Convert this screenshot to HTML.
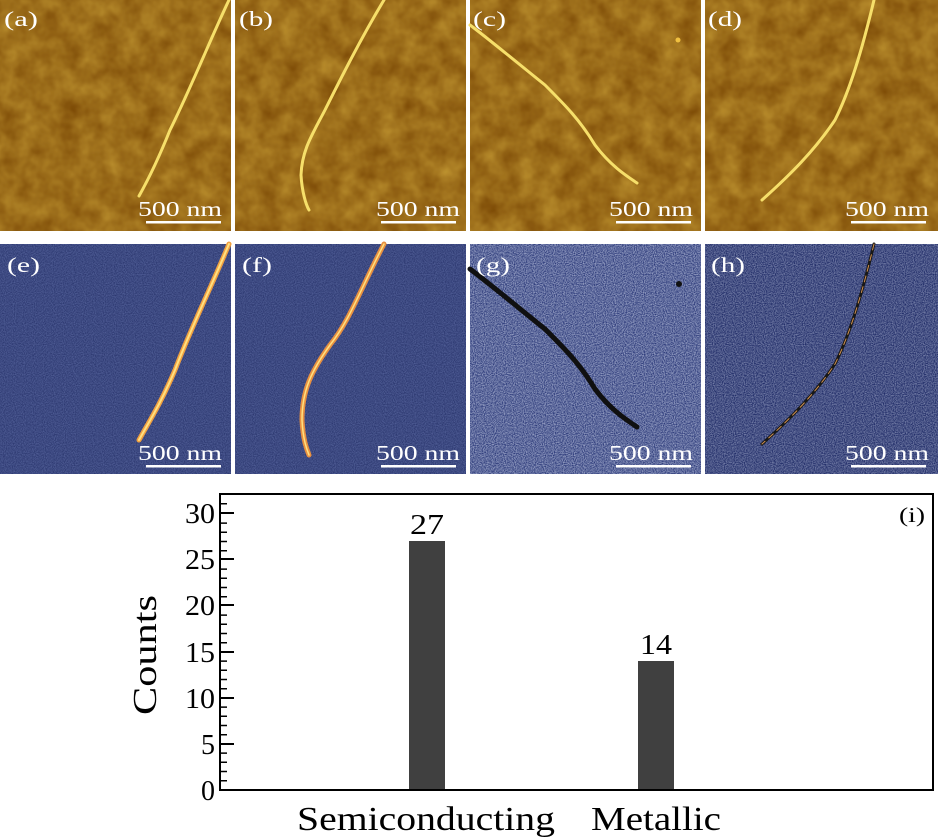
<!DOCTYPE html>
<html><head><meta charset="utf-8"><style>
html,body{margin:0;padding:0;background:#fff;width:938px;height:838px;overflow:hidden}
svg{display:block}
text{font-family:"Liberation Serif",serif}
</style></head><body>
<svg width="938" height="838" viewBox="0 0 938 838" xmlns="http://www.w3.org/2000/svg">
<defs>
<filter id="nz" x="0" y="0" width="100%" height="100%">
<feTurbulence type="fractalNoise" baseFrequency="0.05" numOctaves="3" seed="3"/>
<feColorMatrix values="0 0 0 0 0.74  0 0 0 0 0.48  0 0 0 0 0.06  0 0 0 0.7 -0.05"/>
<feComposite in2="SourceGraphic" operator="in"/>
</filter>
<filter id="nzb" x="0" y="0" width="100%" height="100%">
<feTurbulence type="fractalNoise" baseFrequency="0.9" numOctaves="1" seed="5"/>
<feColorMatrix values="0 0 0 0 0.2  0 0 0 0 0.26  0 0 0 0 0.55  0 0 0 0.7 0"/>
<feComposite in2="SourceGraphic" operator="in"/>
</filter>
<filter id="nzg" x="0" y="0" width="100%" height="100%">
<feTurbulence type="fractalNoise" baseFrequency="0.9" numOctaves="1" seed="7"/>
<feColorMatrix values="0 0 0 0 0.7  0 0 0 0 0.75  0 0 0 0 0.9  0 0 0 1.2 -0.3"/>
<feComposite in2="SourceGraphic" operator="in"/>
</filter>
</defs>
<g>
<rect x="0" y="0" width="231" height="231" fill="#7e4c07"/><rect x="0" y="0" width="231" height="231" fill="#fff" filter="url(#nz)"/>
<rect x="235" y="0" width="231" height="231" fill="#7e4c07"/><rect x="235" y="0" width="231" height="231" fill="#fff" filter="url(#nz)"/>
<rect x="470" y="0" width="231" height="231" fill="#7e4c07"/><rect x="470" y="0" width="231" height="231" fill="#fff" filter="url(#nz)"/>
<rect x="705" y="0" width="233" height="231" fill="#7e4c07"/><rect x="705" y="0" width="233" height="231" fill="#fff" filter="url(#nz)"/>
</g>
<g fill="none" stroke="#f6df6a" stroke-width="3" stroke-linecap="round">
<path d="M229 0 C210 40 190 90 170 130 C158 160 148 180 139 196"/>
<path d="M384 0 C360 40 340 80 325 110 C312 135 302 150 301 175 C302 192 306 205 309 210"/>
<path d="M470 25 C490 40 520 65 545 85 C565 105 580 120 595 145 C610 165 625 175 637 183"/>
<path d="M874 0 C862 50 850 90 835 120 C815 150 790 175 762 200"/>
</g>
<circle cx="678" cy="40" r="2.5" fill="#f0c040"/>
<rect x="0" y="244" width="231" height="230" fill="#1c275f"/><rect x="0" y="244" width="231" height="230" fill="#fff" filter="url(#nzb)"/>
<rect x="235" y="244" width="231" height="230" fill="#1c275f"/><rect x="235" y="244" width="231" height="230" fill="#fff" filter="url(#nzb)"/>
<rect x="470" y="244" width="231" height="230" fill="#2a3878"/><rect x="470" y="244" width="231" height="230" fill="#fff" filter="url(#nzg)"/>
<rect x="705" y="244" width="233" height="230" fill="#1e2a66"/><rect x="705" y="244" width="233" height="230" fill="#fff" filter="url(#nzg)" opacity="0.75"/>
<g fill="none" stroke-linecap="round">
<path d="M229 244 C210 290 190 330 175 370 C160 405 150 420 139 440" stroke="#f0a040" stroke-width="5"/>
<path d="M229 244 C210 290 190 330 175 370 C160 405 150 420 139 440" stroke="#ffe080" stroke-width="2"/>
<path d="M384 244 C360 290 350 320 330 345 C312 370 302 390 302 420 C303 440 307 450 309 455" stroke="#e89040" stroke-width="5"/>
<path d="M384 244 C360 290 350 320 330 345 C312 370 302 390 302 420 C303 440 307 450 309 455" stroke="#ffe080" stroke-width="1.5"/>
<path d="M470 269 C490 284 520 309 545 329 C565 349 580 364 595 389 C610 409 625 419 637 427" stroke="#101010" stroke-width="5"/>
<path d="M874 244 C862 294 850 334 835 364 C815 394 790 419 762 444" stroke="#181818" stroke-width="3"/>
<path d="M874 244 C862 294 850 334 835 364 C815 394 790 419 762 444" stroke="#d09050" stroke-width="1" stroke-dasharray="6 5"/>
</g>
<circle cx="679" cy="284" r="3" fill="#111"/>
<g fill="#fff" font-size="21">
<text x="4" y="26" textLength="34" lengthAdjust="spacingAndGlyphs">(a)</text><text x="239" y="26" textLength="34" lengthAdjust="spacingAndGlyphs">(b)</text><text x="473" y="26" textLength="33" lengthAdjust="spacingAndGlyphs">(c)</text><text x="708" y="26" textLength="34" lengthAdjust="spacingAndGlyphs">(d)</text>
<text x="7" y="272" textLength="33" lengthAdjust="spacingAndGlyphs">(e)</text><text x="242" y="272" textLength="30" lengthAdjust="spacingAndGlyphs">(f)</text><text x="476" y="272" textLength="34" lengthAdjust="spacingAndGlyphs">(g)</text><text x="711" y="272" textLength="34" lengthAdjust="spacingAndGlyphs">(h)</text>
<text x="138" y="216" textLength="84" lengthAdjust="spacingAndGlyphs">500 nm</text><text x="376" y="216" textLength="84" lengthAdjust="spacingAndGlyphs">500 nm</text><text x="609" y="216" textLength="84" lengthAdjust="spacingAndGlyphs">500 nm</text><text x="845" y="216" textLength="84" lengthAdjust="spacingAndGlyphs">500 nm</text>
<text x="138" y="460" textLength="84" lengthAdjust="spacingAndGlyphs">500 nm</text><text x="376" y="460" textLength="84" lengthAdjust="spacingAndGlyphs">500 nm</text><text x="609" y="460" textLength="84" lengthAdjust="spacingAndGlyphs">500 nm</text><text x="845" y="460" textLength="84" lengthAdjust="spacingAndGlyphs">500 nm</text>
</g>
<g fill="#fff">
<rect x="146" y="221" width="75" height="2.5"/><rect x="381" y="221" width="75" height="2.5"/><rect x="616" y="221" width="75" height="2.5"/><rect x="851" y="221" width="75" height="2.5"/>
<rect x="146" y="465" width="75" height="2.5"/><rect x="381" y="465" width="75" height="2.5"/><rect x="616" y="465" width="75" height="2.5"/><rect x="851" y="465" width="75" height="2.5"/>
</g>
<rect x="409" y="541" width="36" height="249" fill="#404040"/>
<rect x="638" y="661" width="36" height="129" fill="#404040"/>
<rect x="220" y="494" width="713" height="296" fill="none" stroke="#000" stroke-width="2"/>
<g stroke="#000" stroke-width="1.5">
<path d="M220 790h14M220 744h14M220 698h14M220 652h14M220 605h14M220 559h14M220 513h14" stroke-width="2"/>
<path d="M220 780.8h7M220 771.5h7M220 762.3h7M220 753.1h7M220 734.8h7M220 725.5h7M220 716.3h7M220 707.1h7M220 688.8h7M220 679.5h7M220 670.3h7M220 661.1h7M220 642.8h7M220 633.5h7M220 624.3h7M220 615.1h7M220 596.8h7M220 587.5h7M220 578.3h7M220 569.1h7M220 550.8h7M220 541.5h7M220 532.3h7M220 523.1h7M220 503.8h7"/>
</g>
<g font-size="28" text-anchor="end" fill="#000">
<text x="215" y="800">0</text><text x="215" y="754">5</text><text x="215" y="708" textLength="30" lengthAdjust="spacingAndGlyphs">10</text><text x="215" y="662" textLength="30" lengthAdjust="spacingAndGlyphs">15</text><text x="215" y="615" textLength="30" lengthAdjust="spacingAndGlyphs">20</text><text x="215" y="569" textLength="30" lengthAdjust="spacingAndGlyphs">25</text><text x="215" y="523" textLength="30" lengthAdjust="spacingAndGlyphs">30</text>
</g>
<text transform="translate(156,655) rotate(-90)" font-size="34" text-anchor="middle" textLength="120" lengthAdjust="spacingAndGlyphs">Counts</text>
<g font-size="28" text-anchor="middle">
<text x="427" y="534" textLength="34" lengthAdjust="spacingAndGlyphs">27</text><text x="656" y="654" textLength="32" lengthAdjust="spacingAndGlyphs">14</text>
</g>
<text x="912" y="522" font-size="21" text-anchor="middle" textLength="26" lengthAdjust="spacingAndGlyphs">(i)</text>
<g font-size="34" text-anchor="middle">
<text x="426" y="830" textLength="258" lengthAdjust="spacingAndGlyphs">Semiconducting</text><text x="656" y="830" textLength="130" lengthAdjust="spacingAndGlyphs">Metallic</text>
</g>
</svg>
</body></html>
